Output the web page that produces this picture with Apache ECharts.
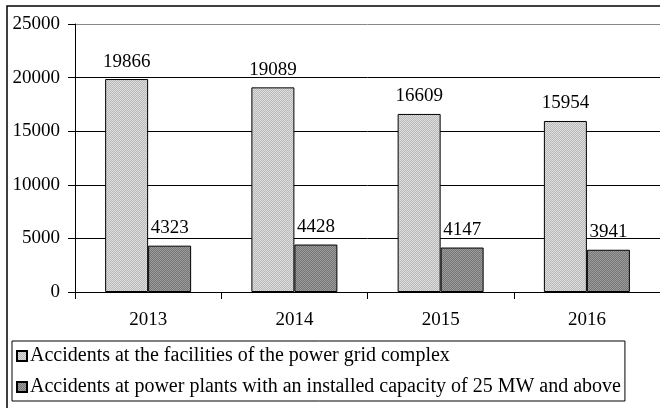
<!DOCTYPE html>
<html>
<head>
<meta charset="utf-8">
<script src="https://cdn.jsdelivr.net/npm/echarts@6/dist/echarts.min.js"></script>
<style>
  html, body { margin: 0; padding: 0; background: #fff; }
  #chart { width: 660px; height: 408px; }
</style>
</head>
<body>
<div id="chart"></div>
<script>
const years = ['2013', '2014', '2015', '2016'];
const gridAccidents = [19866, 19089, 16609, 15954];
const plantAccidents = [4323, 4428, 4147, 3941];
const seriesNames = [
  'Accidents at the facilities of the power grid complex',
  'Accidents at power plants with an installed capacity of 25 MW and above'
];

// small hatched tile, like the old office fill
function makePattern(base, line) {
  const c = document.createElement('canvas');
  c.width = 4; c.height = 4;
  const ctx = c.getContext('2d');
  ctx.fillStyle = base;
  ctx.fillRect(0, 0, 4, 4);
  ctx.fillStyle = line;
  for (let i = 0; i < 4; i++) {
    ctx.fillRect(i, (i + 1) % 4, 1, 1);
    ctx.fillRect(i, (i + 3) % 4, 1, 1);
  }
  return c;
}

const font = 'Liberation Serif';
const lightFill = { image: makePattern('#dedede', '#b9b9b9'), repeat: 'repeat' };
const darkFill = { image: makePattern('#9c9c9c', '#767676'), repeat: 'repeat' };

const chart = echarts.init(document.getElementById('chart'));

const labelStyle = {
  show: true,
  position: 'top',
  distance: 8,
  fontFamily: font,
  fontSize: 19,
  color: '#000'
};

chart.setOption({
  backgroundColor: '#fff',
  animation: false,
  graphic: [
    {
      type: 'polyline',
      shape: { points: [[7, 408], [7, 6], [660, 6]] },
      style: { stroke: '#000', lineWidth: 1.5, fill: null }
    }
  ],
  grid: { left: 75, top: 24, right: -7, bottom: 116 },
  legend: {
    orient: 'vertical',
    left: 12,
    top: 341,
    padding: [5, 4, 4, 4],
    itemGap: 11,
    itemWidth: 10,
    itemHeight: 10,
    icon: 'rect',
    borderColor: '#000',
    borderWidth: 1,
    textStyle: { fontFamily: font, fontSize: 20, color: '#000', padding: [0, 0, 0, -2] },
    data: seriesNames
  },
  xAxis: {
    type: 'category',
    data: years,
    axisLine: { lineStyle: { color: '#000', width: 1 } },
    axisTick: { show: true, length: 7, lineStyle: { color: '#000' } },
    axisLabel: { margin: 19, fontFamily: font, fontSize: 19, color: '#000' }
  },
  yAxis: {
    type: 'value',
    min: 0,
    max: 25000,
    interval: 5000,
    axisLine: { show: true, lineStyle: { color: '#000', width: 1 } },
    axisTick: { show: true, length: 7, lineStyle: { color: '#000' } },
    axisLabel: {
      margin: 15, fontFamily: font, fontSize: 19, color: '#000',
      formatter: v => String(v)
    },
    splitLine: {
      lineStyle: { color: ['#000', '#000', '#000', '#000', '#000', '#888'], width: 1 }
    }
  },
  series: [
    {
      name: seriesNames[0],
      type: 'bar',
      data: gridAccidents,
      barWidth: 43,
      barGap: '0%',
      itemStyle: { color: lightFill, borderColor: '#000', borderWidth: 1 },
      label: labelStyle
    },
    {
      name: seriesNames[1],
      type: 'bar',
      data: plantAccidents,
      barWidth: 43,
      itemStyle: { color: darkFill, borderColor: '#000', borderWidth: 1 },
      label: labelStyle
    }
  ]
});
</script>
</body>
</html>
